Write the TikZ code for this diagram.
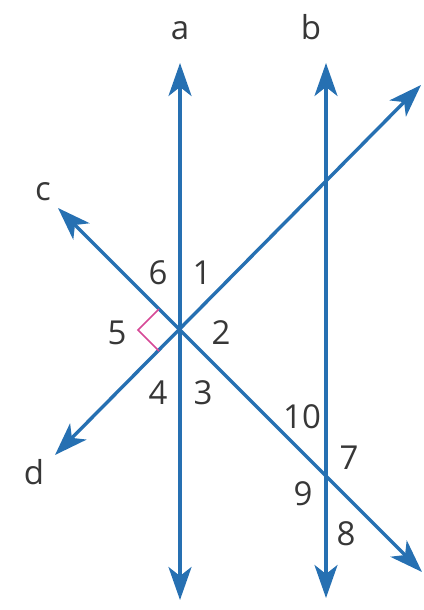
\documentclass[tikz,border=0pt]{standalone}
\usepackage{fontspec}
\setmainfont{Open Sans}
\usetikzlibrary{arrows.meta,calc}
\definecolor{lineblue}{RGB}{38,112,178}
\definecolor{anglepink}{RGB}{214,72,150}
\definecolor{labelgray}{RGB}{55,55,55}
\tikzset{
	lin/.style={color=lineblue,line width=3.4pt,{Stealth[length=33pt,width=23pt,inset=9pt]}-{Stealth[length=33pt,width=23pt,inset=9pt]}},
	lbl/.style={text=labelgray,font=\fontsize{33}{33}\selectfont,inner sep=0pt},
	rang/.style={color=anglepink,line width=1.5pt},
}
\begin{document}
\begin{tikzpicture}[x=1pt,y=-1pt]
	\useasboundingbox (0,0) rectangle (423,610);
	%%%%%%%% end points of the lines
	\coordinate (O) at (180,330);
	\coordinate (atop) at (180,63);
	\coordinate (abot) at (180,600);
	\coordinate (btop) at (326,63);
	\coordinate (bbot) at (326,598);
	\coordinate (cend) at (58,208);
	\coordinate (cfar) at (422,572);
	\coordinate (dend) at (55,455);
	\coordinate (dfar) at (421,85);
	%%%%%%%%
	\draw[lin] (abot) -- (atop);
	\draw[lin] (bbot) -- (btop);
	\draw[lin] (cfar) -- (cend);
	\draw[lin] (dend) -- (dfar);
	\draw[rang] ($(O)+(-21,-21)$) -- ($(O)+(-42,0)$) -- ($(O)+(-21,21)$);
	%%%%%%%% line names
	\node[lbl] (la) at (180,31) {a};
	\node[lbl] (lb) at (311,27) {b};
	\node[lbl] (lc) at (43,192) {c};
	\node[lbl] (ld) at (34,472) {d};
	%%%%%%%% angle numbers
	\node[lbl] (n1) at (202,273) {1};
	\node[lbl] (n2) at (221,333) {2};
	\node[lbl] (n3) at (203,393) {3};
	\node[lbl] (n4) at (158,393) {4};
	\node[lbl] (n5) at (117,333) {5};
	\node[lbl] (n6) at (158,273) {6};
	\node[lbl] (n7) at (349,458) {7};
	\node[lbl] (n8) at (346,534) {8};
	\node[lbl] (n9) at (303,494) {9};
	\node[lbl] (n10) at (302,417) {10};
\end{tikzpicture}
\end{document}
